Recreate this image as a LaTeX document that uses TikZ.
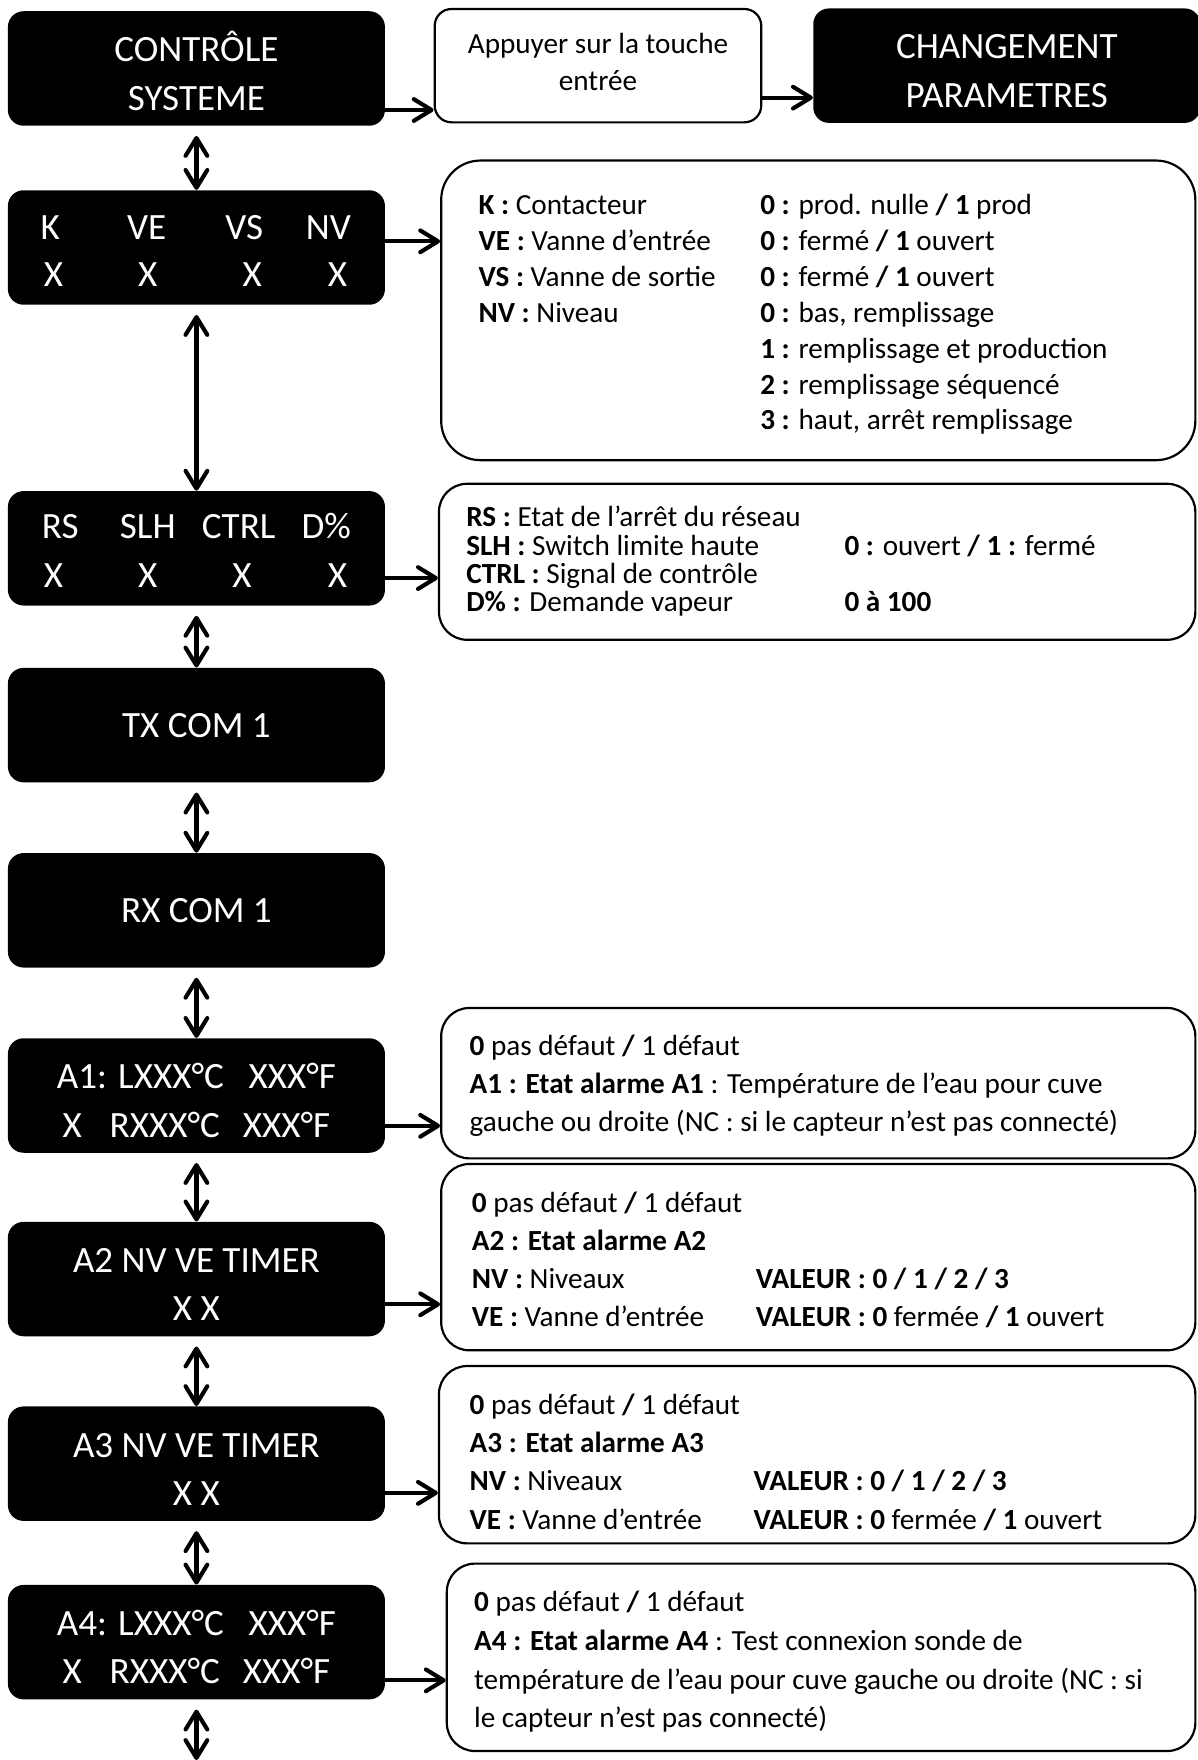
\documentclass[tikz,border=0pt]{standalone}
\usepackage{fontspec}
\setmainfont{Carlito}
\usepackage{tikz}
\usetikzlibrary{arrows.meta, positioning}
\newcommand{\lcdfont}{\fontsize{18.8}{24.5}\selectfont}
\newcommand{\notefont}{\fontsize{14.8}{18.8}\selectfont}
\newcommand{\lcdtop}{\rule{0pt}{17.8pt}}

\begin{document}
\begin{tikzpicture}[x=0.02cm, y=-0.02cm,
  lcd/.style={rectangle, fill=black, rounded corners=0.28cm, minimum width=6.72cm, minimum height=2.04cm, text=white, font=\lcdfont, align=center, inner sep=0pt},
  note/.style={rectangle, draw=black, line width=1.1pt, rounded corners=0.5cm, fill=white, inner sep=0pt},
  item/.style={font=\notefont, anchor=base west, inner sep=0pt},
  lcditem/.style={font=\lcdfont, text=white, anchor=base, inner sep=0pt},
  arr/.style={line width=2.1pt, -{Straight Barb[round, length=9pt, width=11pt]}},
  dbl/.style={line width=2.1pt, {Straight Barb[round, length=9pt, width=11pt]}-{Straight Barb[round, length=9pt, width=11pt]}, shorten <=5pt}
]
  \useasboundingbox (0,0) rectangle (1067,1568);

  % top row
  \node[lcd] (ctrl) at (175,61) {\lcdtop CONTRÔLE\\SYSTEME};
  \node[note, rounded corners=0.3cm, minimum width=5.82cm, minimum height=2.02cm, align=center, font=\notefont, right=0.86cm of ctrl, yshift=0.05cm] (enter) {Appuyer sur la touche\\entrée\rule[-4pt]{0pt}{0pt}};
  \node[lcd, minimum width=6.9cm, right=0.9cm of enter] (chg) {\lcdtop CHANGEMENT\\PARAMETRES};
  \draw[arr] (ctrl.east |- 0,98) -- (enter.west |- 0,98);
  \draw[arr] (enter.east |- 0,87) -- (chg.west |- 0,87);

  % K VE VS NV
  \node[lcd] (kv) at (175,220.5) {};
  \node[lcditem] (kvk) at ([xshift=0.76cm, yshift=-0.88cm]kv.north west) {K};
  \node[lcditem] (kvve) at ([xshift=2.48cm, yshift=-0.88cm]kv.north west) {VE};
  \node[lcditem] (kvvs) at ([xshift=4.22cm, yshift=-0.88cm]kv.north west) {VS};
  \node[lcditem] (kvnv) at ([xshift=5.72cm, yshift=-0.88cm]kv.north west) {NV};
  \node[lcditem] (kvx1) at ([xshift=0.82cm, yshift=-1.72cm]kv.north west) {X};
  \node[lcditem] (kvx2) at ([xshift=2.50cm, yshift=-1.72cm]kv.north west) {X};
  \node[lcditem] (kvx3) at ([xshift=4.36cm, yshift=-1.72cm]kv.north west) {X};
  \node[lcditem] (kvx4) at ([xshift=5.88cm, yshift=-1.72cm]kv.north west) {X};

  \node[note, rounded corners=0.7cm, minimum width=13.44cm, minimum height=5.34cm] (nkv) at (729,276.5) {};
  \node[item] at ([xshift=0.68cm, yshift=-0.98cm]nkv.north west) {\textbf{K :} Contacteur};
  \node[item] at ([xshift=0.68cm, yshift=-1.62cm]nkv.north west) {\textbf{VE :} Vanne d’entrée};
  \node[item] at ([xshift=0.68cm, yshift=-2.26cm]nkv.north west) {\textbf{VS :} Vanne de sortie};
  \node[item] at ([xshift=0.68cm, yshift=-2.90cm]nkv.north west) {\textbf{NV :} Niveau};
  \node[item] at ([xshift=5.7cm, yshift=-0.98cm]nkv.north west) {\textbf{0 :} prod. nulle \textbf{/ 1} prod};
  \node[item] at ([xshift=5.7cm, yshift=-1.62cm]nkv.north west) {\textbf{0 :} fermé \textbf{/ 1} ouvert};
  \node[item] at ([xshift=5.7cm, yshift=-2.26cm]nkv.north west) {\textbf{0 :} fermé \textbf{/ 1} ouvert};
  \node[item] at ([xshift=5.7cm, yshift=-2.90cm]nkv.north west) {\textbf{0 :} bas, remplissage};
  \node[item] at ([xshift=5.7cm, yshift=-3.54cm]nkv.north west) {\textbf{1 :} remplissage et production};
  \node[item] at ([xshift=5.7cm, yshift=-4.18cm]nkv.north west) {\textbf{2 :} remplissage séquencé};
  \node[item] at ([xshift=5.7cm, yshift=-4.82cm]nkv.north west) {\textbf{3 :} haut, arrêt remplissage};
  \draw[arr] (kv.east |- 0,215) -- (nkv.west |- 0,215);

  % RS SLH CTRL D%
  \node[lcd] (rs) at (175,488.5) {};
  \node[lcditem] (rsrs) at ([xshift=0.94cm, yshift=-0.86cm]rs.north west) {RS};
  \node[lcditem] (rsslh) at ([xshift=2.50cm, yshift=-0.86cm]rs.north west) {SLH};
  \node[lcditem] (rsctrl) at ([xshift=4.12cm, yshift=-0.86cm]rs.north west) {CTRL};
  \node[lcditem] (rsd) at ([xshift=5.68cm, yshift=-0.86cm]rs.north west) {D\%};
  \node[lcditem] (rsx1) at ([xshift=0.82cm, yshift=-1.72cm]rs.north west) {X};
  \node[lcditem] (rsx2) at ([xshift=2.50cm, yshift=-1.72cm]rs.north west) {X};
  \node[lcditem] (rsx3) at ([xshift=4.18cm, yshift=-1.72cm]rs.north west) {X};
  \node[lcditem] (rsx4) at ([xshift=5.88cm, yshift=-1.72cm]rs.north west) {X};

  \node[note, minimum width=13.48cm, minimum height=2.78cm] (nrs) at (728,500.5) {};
  \node[item] at ([xshift=0.5cm, yshift=-0.78cm]nrs.north west) {\textbf{RS :} Etat de l’arrêt du réseau};
  \node[item] at ([xshift=0.5cm, yshift=-1.30cm]nrs.north west) {\textbf{SLH :} Switch limite haute};
  \node[item] at ([xshift=0.5cm, yshift=-1.80cm]nrs.north west) {\textbf{CTRL :} Signal de contrôle};
  \node[item] at ([xshift=0.5cm, yshift=-2.30cm]nrs.north west) {\textbf{D\% :} Demande vapeur};
  \node[item] at ([xshift=7.24cm, yshift=-1.30cm]nrs.north west) {\textbf{0 :} ouvert \textbf{/ 1 :} fermé};
  \node[item] at ([xshift=7.24cm, yshift=-2.30cm]nrs.north west) {\textbf{0 à 100}};
  \draw[arr] (rs.east |- 0,515) -- (nrs.west |- 0,515);

  % COM
  \node[lcd] (tx) at (175,646) {TX COM 1};
  \node[lcd] (rx) at (175,811) {RX COM 1};

  % alarms
  \node[lcd] (a1) at (175,976) {\lcdtop A1: LXXX°C\hspace{0.67em}XXX°F\\X\hspace{0.75em}RXXX°C\hspace{0.62em}XXX°F};
  \node[lcd] (a2) at (175,1139.5) {\lcdtop A2 NV VE TIMER\\X X};
  \node[lcd] (a3) at (175,1304) {\lcdtop A3 NV VE TIMER\\X X};
  \node[lcd] (a4) at (175,1463) {\lcdtop A4: LXXX°C\hspace{0.67em}XXX°F\\X\hspace{0.75em}RXXX°C\hspace{0.62em}XXX°F};

  \node[note, minimum width=13.44cm, minimum height=2.68cm] (na1) at (729,965) {};
  \node[item] at ([xshift=0.52cm, yshift=-0.86cm]na1.north west) {\textbf{0} pas défaut \textbf{/} 1 défaut};
  \node[item] at ([xshift=0.52cm, yshift=-1.54cm]na1.north west) {\textbf{A1 : Etat alarme A1} : Température de l’eau pour cuve};
  \node[item] at ([xshift=0.52cm, yshift=-2.22cm]na1.north west) {gauche ou droite (NC : si le capteur n’est pas connecté)};

  \node[note, minimum width=13.44cm, minimum height=3.32cm] (na2) at (729,1120) {};
  \node[item] at ([xshift=0.56cm, yshift=-0.88cm]na2.north west) {\textbf{0} pas défaut \textbf{/} 1 défaut};
  \node[item] at ([xshift=0.56cm, yshift=-1.56cm]na2.north west) {\textbf{A2 : Etat alarme A2}};
  \node[item] at ([xshift=0.56cm, yshift=-2.24cm]na2.north west) {\textbf{NV :} Niveaux};
  \node[item] at ([xshift=0.56cm, yshift=-2.92cm]na2.north west) {\textbf{VE :} Vanne d’entrée};
  \node[item] at ([xshift=5.62cm, yshift=-2.24cm]na2.north west) {\textbf{VALEUR : 0 / 1 / 2 / 3}};
  \node[item] at ([xshift=5.62cm, yshift=-2.92cm]na2.north west) {\textbf{VALEUR : 0} fermée \textbf{/ 1} ouvert};

  \node[note, minimum width=13.48cm, minimum height=3.16cm] (na3) at (728,1296) {};
  \node[item] at ([xshift=0.56cm, yshift=-0.88cm]na3.north west) {\textbf{0} pas défaut \textbf{/} 1 défaut};
  \node[item] at ([xshift=0.56cm, yshift=-1.56cm]na3.north west) {\textbf{A3 : Etat alarme A3}};
  \node[item] at ([xshift=0.56cm, yshift=-2.24cm]na3.north west) {\textbf{NV :} Niveaux};
  \node[item] at ([xshift=0.56cm, yshift=-2.94cm]na3.north west) {\textbf{VE :} Vanne d’entrée};
  \node[item] at ([xshift=5.62cm, yshift=-2.24cm]na3.north west) {\textbf{VALEUR : 0 / 1 / 2 / 3}};
  \node[item] at ([xshift=5.62cm, yshift=-2.94cm]na3.north west) {\textbf{VALEUR : 0} fermée \textbf{/ 1} ouvert};

  \node[note, minimum width=13.34cm, minimum height=3.34cm] (na4) at (731.5,1476.5) {};
  \node[item] at ([xshift=0.5cm, yshift=-0.88cm]na4.north west) {\textbf{0} pas défaut \textbf{/} 1 défaut};
  \node[item] at ([xshift=0.5cm, yshift=-1.56cm]na4.north west) {\textbf{A4 : Etat alarme A4} : Test connexion sonde de};
  \node[item] at ([xshift=0.5cm, yshift=-2.26cm]na4.north west) {température de l’eau pour cuve gauche ou droite (NC : si};
  \node[item] at ([xshift=0.5cm, yshift=-2.94cm]na4.north west) {le capteur n’est pas connecté)};

  \draw[arr] (a1.east |- 0,1003) -- (na1.west |- 0,1003);
  \draw[arr] (a2.east |- 0,1162) -- (na2.west |- 0,1162);
  \draw[arr] (a3.east |- 0,1330) -- (na3.west |- 0,1330);
  \draw[arr] (a4.east |- 0,1497) -- (na4.west |- 0,1497);

  % column links
  \coordinate (out) at (175,1568);
  \draw[dbl] (ctrl) -- (kv);
  \draw[dbl] (kv) -- (rs);
  \draw[dbl] (rs) -- (tx);
  \draw[dbl] (tx) -- (rx);
  \draw[dbl] (rx) -- (a1);
  \draw[dbl] (a1) -- (a2);
  \draw[dbl] (a2) -- (a3);
  \draw[dbl] (a3) -- (a4);
  \draw[dbl] (a4) -- (out);
\end{tikzpicture}
\end{document}
